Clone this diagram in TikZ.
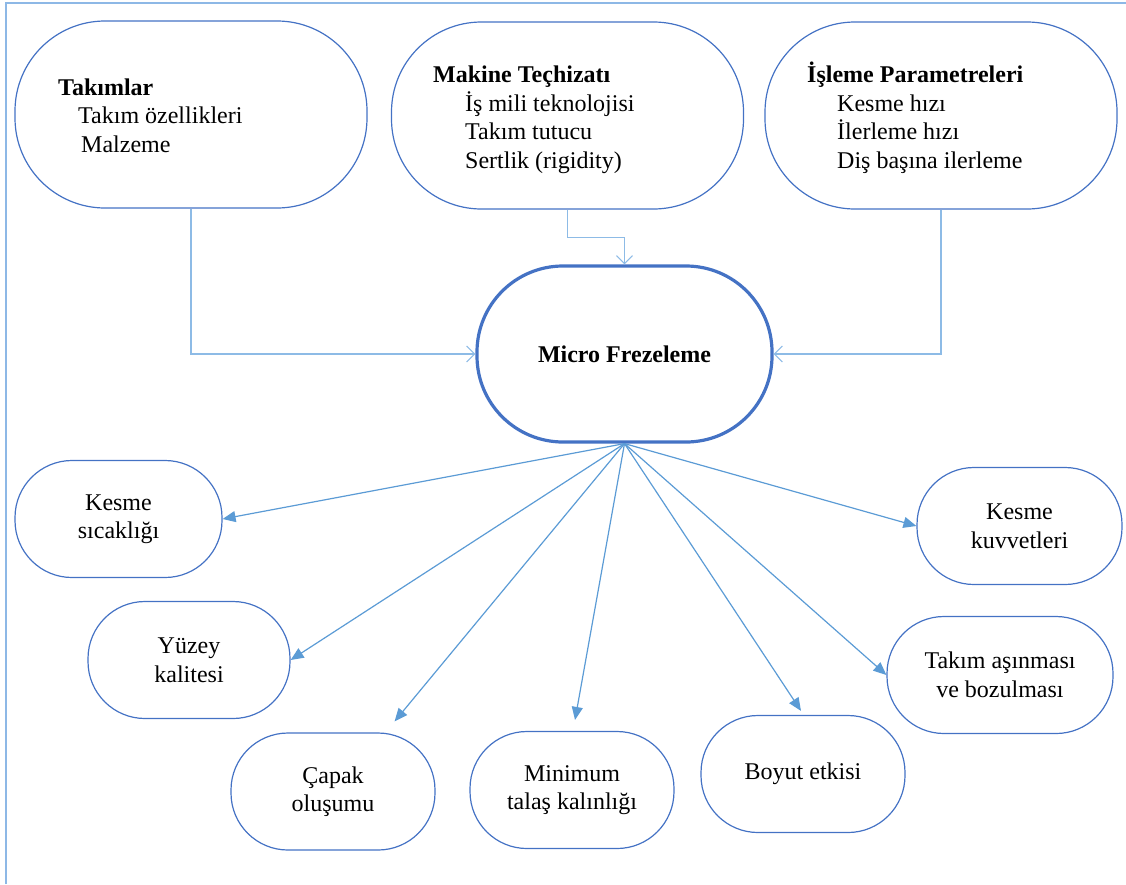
\documentclass[tikz,border=0pt]{standalone}
\usepackage{fontspec}
\setmainfont{Liberation Serif}
\usetikzlibrary{arrows.meta,calc}
\definecolor{boxblue}{HTML}{4472C4}
\definecolor{connblue}{HTML}{5B9BD5}
\definecolor{lightconn}{HTML}{8DBBE6}
\definecolor{framecol}{HTML}{8DB8E6}
\tikzset{
  roundbox/.style={draw=boxblue, line width=1.2pt, rectangle, rounded corners=57pt,
    inner sep=0pt, align=center, text=black, font=\fontsize{24}{28.5}\selectfont},
  topbox/.style={roundbox, rounded corners=90pt, minimum width=352pt, minimum height=187pt},
  smallbox/.style={roundbox, minimum height=117pt},
  mainbox/.style={roundbox, line width=3.2pt, rounded corners=86pt, minimum width=295pt,
    minimum height=176pt, font=\fontsize{24}{28.5}\selectfont\bfseries},
  linetext/.style={anchor=base west, inner sep=0pt, font=\fontsize{24}{28.5}\selectfont},
  titletext/.style={linetext, font=\fontsize{24}{28.5}\selectfont\bfseries},
  topconn/.style={draw=lightconn, line width=1.3pt, -{Straight Barb[length=8pt,width=16pt,line width=1.1pt]}},
  botconn/.style={draw=connblue, line width=1.2pt, -{Triangle[length=13pt,width=11pt]}},
}
\begin{document}
\begin{tikzpicture}[x=1pt,y=-1pt]
\useasboundingbox (0,0) rectangle (1126,884);
% frame
\draw[framecol, line width=2pt] (6,884) -- (6,3) -- (1126,3);

% top boxes
\node[topbox] (tak) at (191,114.5) {};
\node[topbox] (mak) at (567.5,115.5) {};
\node[topbox] (isl) at (941,115.5) {};

\node[titletext] (takt) at (58,95) {Takımlar};
\node[linetext] (tak1) at (78,123.5) {Takım özellikleri};
\node[linetext] (tak2) at (81,152) {Malzeme};

\node[titletext] (makt) at (433,82.5) {Makine Teçhizatı};
\node[linetext] (mak1) at (465,111) {İş mili teknolojisi};
\node[linetext] (mak2) at (465,139.5) {Takım tutucu};
\node[linetext] (mak3) at (465,168) {Sertlik (rigidity)};

\node[titletext] (islt) at (807,82.5) {İşleme Parametreleri};
\node[linetext] (isl1) at (837,111) {Kesme hızı};
\node[linetext] (isl2) at (837,139.5) {İlerleme hızı};
\node[linetext] (isl3) at (837,168) {Diş başına ilerleme};

% main
\node[mainbox] (main) at (624.5,354) {Micro Frezeleme};

% bottom boxes
\node[smallbox, minimum width=207pt] (ks) at (118.5,519) {Kesme\\sıcaklığı};
\node[smallbox, minimum width=202pt] (yk) at (189,660) {Yüzey\\kalitesi};
\node[smallbox, minimum width=205pt] (kk) at (1019.5,526) {Kesme\\kuvvetleri};
\node[smallbox, minimum width=226pt] (ta) at (1000,675) {Takım aşınması\\ve bozulması};
\node[smallbox, minimum width=204pt] (cp) at (333,791.5) {Çapak\\oluşumu};
\node[smallbox, minimum width=204pt] (mn) at (572,790) {Minimum\\talaş kalınlığı};
\node[smallbox, minimum width=204pt] (by) at (803,774) {Boyut etkisi};

% top connectors
\draw[topconn] (tak.south) |- (main.west);
\draw[topconn] (mak.south) -- ++(0,28) -| (main.north);
\draw[topconn] (isl.south) |- (main.east);

% bottom connectors
\draw[botconn] (main.south) -- (ks.east);
\draw[botconn] (main.south) -- (yk.east);
\draw[botconn] (main.south) -- ($(cp.north east)+(-41,-11)$);
\draw[botconn] (main.south) -- ($(mn.north)+(3,-11)$);
\draw[botconn] (main.south) -- ($(by.north)+(-2,-4)$);
\draw[botconn] (main.south) -- (ta.west);
\draw[botconn] (main.south) -- (kk.west);
\end{tikzpicture}
\end{document}
